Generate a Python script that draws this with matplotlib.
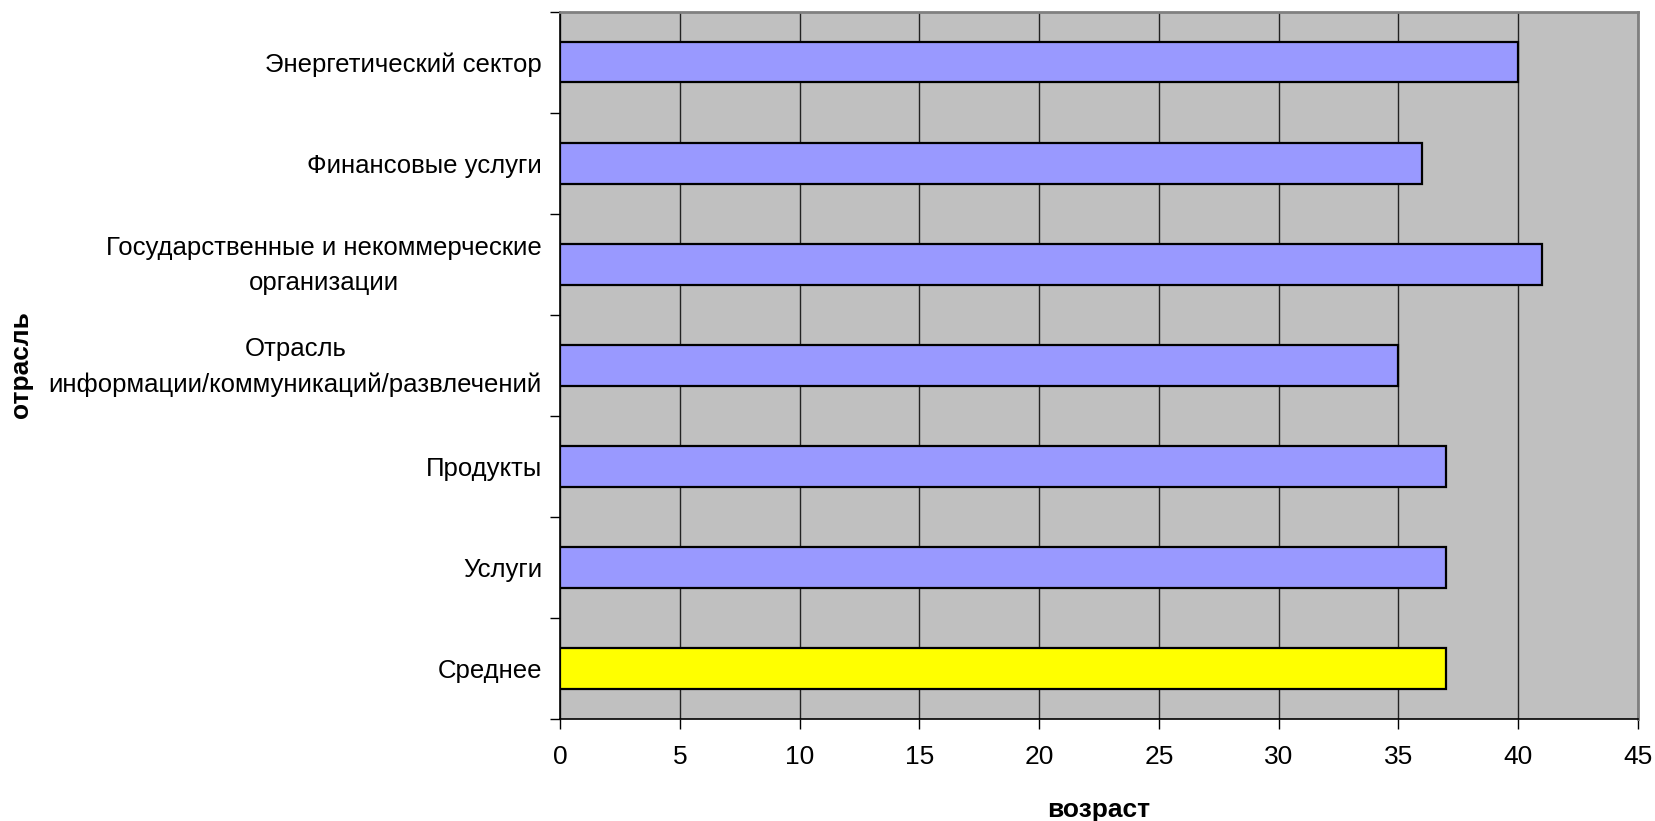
import matplotlib
matplotlib.use("Agg")
import matplotlib.pyplot as plt
import matplotlib.transforms as mtransforms
import numpy as np

plt.rcParams['font.family'] = ['Liberation Sans', 'DejaVu Sans']

categories = [
    "Энергетический сектор",
    "Финансовые услуги",
    "Государственные и некоммерческие\nорганизации",
    "Отрасль\nинформации/коммуникаций/развлечений",
    "Продукты",
    "Услуги",
    "Среднее",
]
ages = [40, 36, 41, 35, 37, 37, 37]
colors = ["#9999FF"] * 6 + ["#FFFF00"]
x_ticks = [0, 5, 10, 15, 20, 25, 30, 35, 40, 45]

FS = 19
FS_CAT = 18.5

fig = plt.figure(figsize=(16.55, 8.21), dpi=100)
ax = fig.add_axes([0.3384, 0.1242, 0.6513, 0.8615])
ax.set_facecolor("#C0C0C0")

y = np.arange(len(categories))
ax.barh(y, ages, height=0.4, color=colors, edgecolor="black", linewidth=1.6, zorder=3)

ax.set_xlim(0, 45)
ax.set_ylim(len(categories) - 0.5, -0.5)
ax.set_xticks(x_ticks)
ax.set_xticklabels([str(v) for v in x_ticks], fontsize=FS)
ax.xaxis.grid(True, color="#222222", linewidth=1.0, zorder=1)
ax.set_axisbelow(True)

# category labels beside bars, tick marks at category boundaries
ax.set_yticks(y)
ax.set_yticklabels(categories, fontsize=FS_CAT, ha="right", multialignment="center",
                   linespacing=1.6)
ax.tick_params(axis="y", which="major", length=0, pad=13)
ax.set_yticks(np.arange(-0.5, len(categories), 1.0), minor=True)
ax.tick_params(axis="y", which="minor", length=7, width=1.0, color="black", direction="out")
ax.tick_params(axis="x", length=7, width=1.0, color="black", direction="out", pad=12)

# lift two-line labels slightly so the block sits level with its bar
lift = mtransforms.ScaledTranslation(0, 0.07, fig.dpi_scale_trans)
for lbl in ax.get_yticklabels():
    if "\n" in lbl.get_text():
        lbl.set_transform(lbl.get_transform() + lift)

for side in ("left", "bottom"):
    ax.spines[side].set_color("black")
    ax.spines[side].set_linewidth(1.2)
for side in ("top", "right"):
    ax.spines[side].set_color("#808080")
    ax.spines[side].set_linewidth(2.0)

fig.text(1099 / 1655, 1 - 817 / 821, "возраст", fontsize=FS, fontweight="bold",
         ha="center", va="baseline")
fig.text(21 / 1655, 1 - 365 / 821, "отрасль", fontsize=FS, fontweight="bold",
         ha="center", va="center", rotation=90)

fig.savefig("out.png", dpi=100)
